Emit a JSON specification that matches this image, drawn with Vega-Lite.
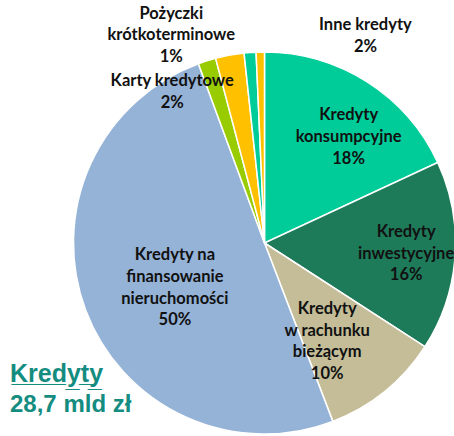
{
  "$schema": "https://vega.github.io/schema/vega-lite/v6.json",
  "width": 379,
  "height": 380,
  "autosize": {"type": "none"},
  "padding": {"left": 75, "top": 53, "right": 0, "bottom": 3},
  "background": "white",
  "config": {"view": {"stroke": null}},
  "title": {
    "text": "K̲r̲e̲d̲y̲t̲y̲",
    "subtitle": "28,7 mld zł",
    "orient": "bottom",
    "anchor": "start",
    "frame": "group",
    "offset": -80,
    "dx": -65,
    "font": "Liberation Sans",
    "fontSize": 25,
    "fontWeight": "bold",
    "color": "#148C7F",
    "subtitleFont": "Liberation Sans",
    "subtitleFontSize": 24,
    "subtitleFontWeight": "bold",
    "subtitleColor": "#148C7F",
    "subtitlePadding": 6
  },
  "data": {
    "values": [
      {"idx": 1, "cat": "konsumpcyjne", "v": 18, "label": ["Kredyty", "konsumpcyjne", "18%"]},
      {"idx": 2, "cat": "inwestycyjne", "v": 16, "label": ["Kredyty", "inwestycyjne", "16%"]},
      {"idx": 3, "cat": "rachunek", "v": 10, "label": ["Kredyty", "w rachunku", "bieżącym", "10%"]},
      {"idx": 4, "cat": "nieruchomosci", "v": 50, "label": ["Kredyty na", "finansowanie", "nieruchomości", "50%"]},
      {"idx": 5, "cat": "karty", "v": 1.5, "label": ["Karty kredytowe", "2%"]},
      {"idx": 6, "cat": "pozostale", "v": 2.4, "label": [""]},
      {"idx": 7, "cat": "pozyczki", "v": 1.0, "label": ["Pożyczki", "krótkoterminowe", "1%"]},
      {"idx": 8, "cat": "inne", "v": 0.7, "label": ["Inne kredyty", "2%"]}
    ]
  },
  "encoding": {
    "theta": {"field": "v", "type": "quantitative", "stack": true},
    "order": {"field": "idx", "type": "quantitative"}
  },
  "layer": [
    {
      "mark": {"type": "arc", "outerRadius": 191, "stroke": "white", "strokeWidth": 1.5},
      "encoding": {
        "color": {
          "field": "cat",
          "type": "nominal",
          "legend": null,
          "scale": {
            "domain": ["konsumpcyjne", "inwestycyjne", "rachunek", "nieruchomosci", "karty", "pozostale", "pozyczki", "inne"],
            "range": ["#00CC99", "#1E7B5A", "#C4BD97", "#95B3D7", "#99CC00", "#FFC000", "#00CC99", "#FFC000"]
          }
        }
      }
    },
    {
      "mark": {"type": "text", "radius": 136, "dx": 11, "dy": -13, "font": "Lato", "fontSize": 16.5, "fontWeight": "bold", "lineHeight": 21.7, "color": "#111111", "baseline": "middle", "align": "center"},
      "encoding": {"text": {"condition": {"test": "datum.cat === 'konsumpcyjne'", "field": "label"}, "value": ""}}
    },
    {
      "mark": {"type": "text", "radius": 142, "dx": 0, "dy": -21, "font": "Lato", "fontSize": 16.5, "fontWeight": "bold", "lineHeight": 21.7, "color": "#111111", "baseline": "middle", "align": "center"},
      "encoding": {"text": {"condition": {"test": "datum.cat === 'inwestycyjne'", "field": "label"}, "value": ""}}
    },
    {
      "mark": {"type": "text", "radius": 117, "dx": -11, "dy": -25, "font": "Lato", "fontSize": 16.5, "fontWeight": "bold", "lineHeight": 21.7, "color": "#111111", "baseline": "middle", "align": "center"},
      "encoding": {"text": {"condition": {"test": "datum.cat === 'rachunek'", "field": "label"}, "value": ""}}
    },
    {
      "mark": {"type": "text", "radius": 100, "dx": 4, "dy": -23, "font": "Lato", "fontSize": 16.5, "fontWeight": "bold", "lineHeight": 21.7, "color": "#111111", "baseline": "middle", "align": "center"},
      "encoding": {"text": {"condition": {"test": "datum.cat === 'nieruchomosci'", "field": "label"}, "value": ""}}
    },
    {
      "mark": {"type": "text", "radius": 177, "dx": -39, "dy": 7, "font": "Lato", "fontSize": 16.5, "fontWeight": "bold", "lineHeight": 21.7, "color": "#111111", "baseline": "middle", "align": "center"},
      "encoding": {"text": {"condition": {"test": "datum.cat === 'karty'", "field": "label"}, "value": ""}}
    },
    {
      "mark": {"type": "text", "radius": 228, "dx": -76, "dy": -2, "font": "Lato", "fontSize": 16.5, "fontWeight": "bold", "lineHeight": 21.7, "color": "#111111", "baseline": "middle", "align": "center"},
      "encoding": {"text": {"condition": {"test": "datum.cat === 'pozyczki'", "field": "label"}, "value": ""}}
    },
    {
      "mark": {"type": "text", "radius": 230, "dx": 106, "dy": 12, "font": "Lato", "fontSize": 16.5, "fontWeight": "bold", "lineHeight": 21.7, "color": "#111111", "baseline": "middle", "align": "center"},
      "encoding": {"text": {"condition": {"test": "datum.cat === 'inne'", "field": "label"}, "value": ""}}
    }
  ]
}
